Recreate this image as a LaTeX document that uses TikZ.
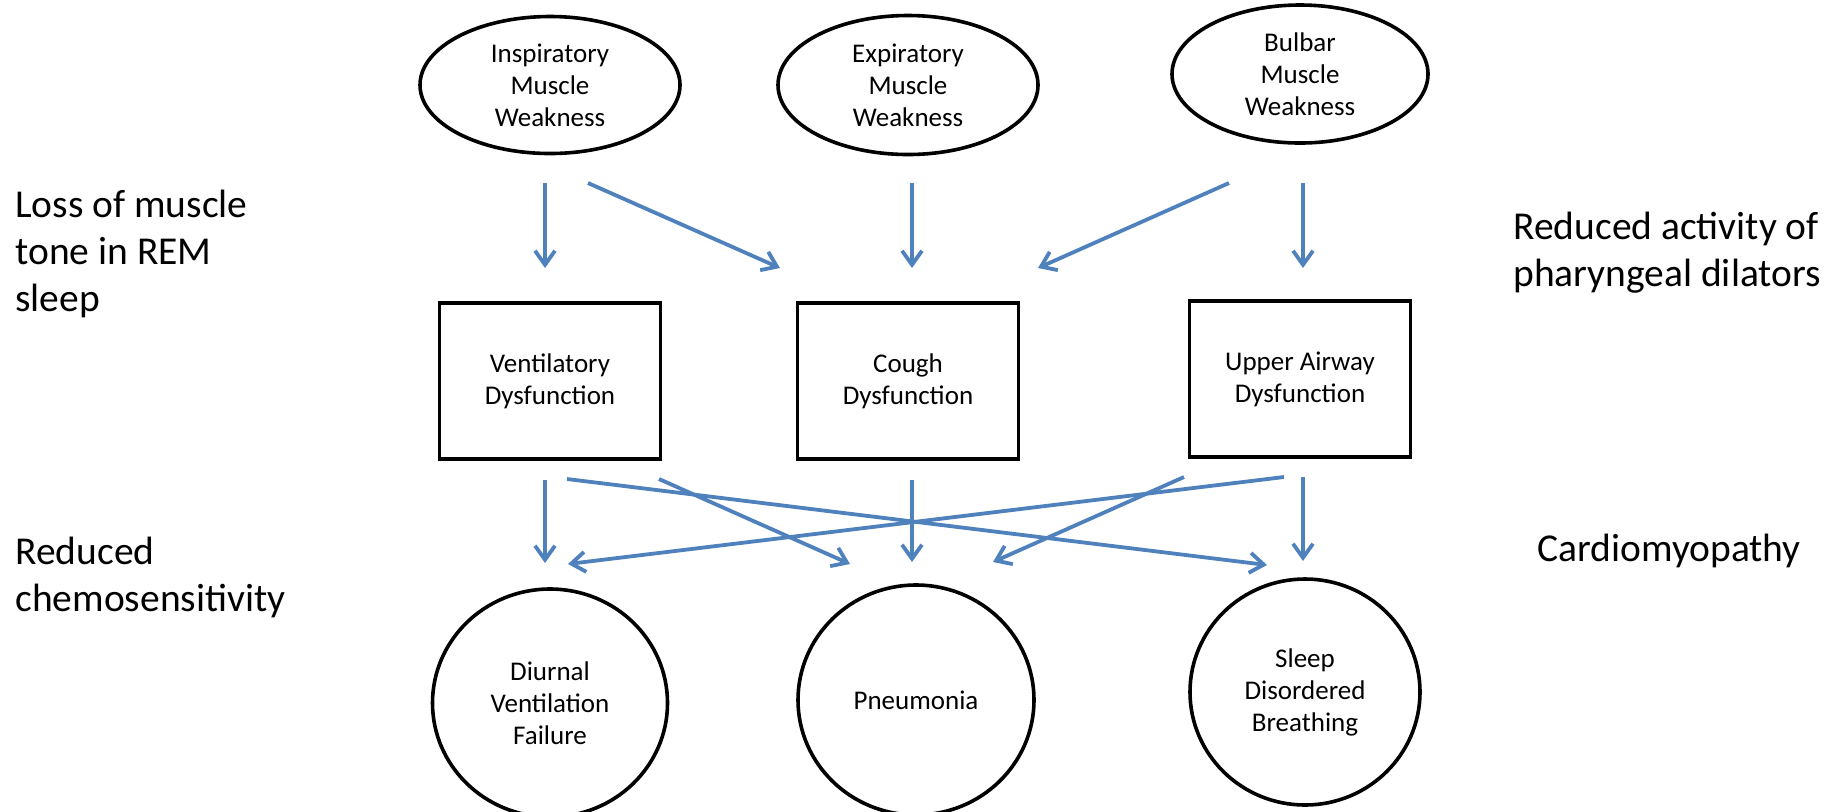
\documentclass[tikz,border=0pt]{standalone}
\usepackage{fontspec}
\setmainfont{Carlito}
\usetikzlibrary{shapes,arrows.meta}

\definecolor{linkblue}{RGB}{79,129,189}
\newcommand{\boxtext}{\fontsize{13.5}{16}\selectfont}
\newcommand{\sidetext}{\fontsize{19.75}{23.5}\selectfont}

\begin{document}
\begin{tikzpicture}[x=0.5pt, y=-0.5pt,
  weakness/.style={ellipse, draw, line width=1.8pt, inner sep=0pt, minimum width=130pt, minimum height=68.5pt, align=center, font=\boxtext},
  dysfunction/.style={rectangle, draw, line width=1.8pt, minimum width=110.5pt, minimum height=78pt, align=center, font=\boxtext},
  outcome/.style={ellipse, draw, line width=1.8pt, inner sep=0pt, align=center, font=\boxtext},
  side/.style={anchor=north west, inner sep=0pt, align=left, font=\sidetext},
  link/.style={draw=linkblue, line width=1.9pt, -{Straight Barb[length=7pt, width=10pt]}}]
\useasboundingbox (0,0) rectangle (1846,811);

% muscle groups
\node[weakness] (insp) at (550,85) {Inspiratory\\Muscle\\Weakness};
\node[weakness, minimum height=69.5pt] (expi) at (908,85) {Expiratory\\Muscle\\Weakness};
\node[weakness, minimum width=128pt, minimum height=69pt] (bulb) at (1300,74) {Bulbar\\Muscle\\Weakness};

% dysfunctions
\node[dysfunction] (vent) at (550,381) {Ventilatory\\Dysfunction};
\node[dysfunction] (cough) at (908,381) {Cough\\Dysfunction};
\node[dysfunction] (upper) at (1300,379) {Upper Airway\\Dysfunction};

% outcomes
\node[outcome, minimum width=117.5pt, minimum height=114pt] (diurnal) at (550,703) {Diurnal\\Ventilation\\Failure};
\node[outcome, minimum width=118pt, minimum height=115pt] (pneu) at (916,700) {Pneumonia};
\node[outcome, minimum width=115pt, minimum height=113pt] (sleep) at (1305,692) {Sleep\\Disordered\\Breathing};

% side notes
\node[side] (rem) at (15,190) {Loss of muscle\\tone in REM\\sleep};
\node[side] (chemo) at (15,537) {Reduced\\chemosensitivity};
\node[side] (dilators) at (1513,212) {Reduced activity of\\pharyngeal dilators};
\node[side] (cardio) at (1537,534) {Cardiomyopathy};

% weakness -> dysfunction
\draw[link] ([shift={(-5,98)}]insp.center) -- ([shift={(-5,-113)}]vent.center);
\draw[link] ([shift={(38,98)}]insp.center) -- ([shift={(-128,-113)}]cough.center);
\draw[link] ([shift={(4,98)}]expi.center) -- ([shift={(4,-113)}]cough.center);
\draw[link] ([shift={(-71,109)}]bulb.center) -- ([shift={(130,-113)}]cough.center);
\draw[link] ([shift={(3,109)}]bulb.center) -- ([shift={(3,-111)}]upper.center);

% dysfunction -> outcome
\draw[link] ([shift={(-5,99)}]vent.center) -- ([shift={(-5,-140)}]diurnal.center);
\draw[link] ([shift={(17,98)}]vent.center) -- ([shift={(-38,-127)}]sleep.center);
\draw[link] ([shift={(109,98)}]vent.center) -- ([shift={(-66,-136)}]pneu.center);
\draw[link] ([shift={(4,99)}]cough.center) -- ([shift={(-4,-138)}]pneu.center);
\draw[link] ([shift={(-116,98)}]upper.center) -- ([shift={(77,-138)}]pneu.center);
\draw[link] ([shift={(-16,98)}]upper.center) -- ([shift={(18,-139)}]diurnal.center);
\draw[link] ([shift={(3,98)}]upper.center) -- ([shift={(-2,-131)}]sleep.center);
\end{tikzpicture}
\end{document}
